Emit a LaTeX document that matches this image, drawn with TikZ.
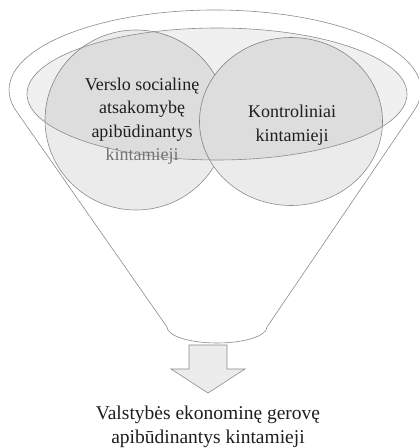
\documentclass[tikz,border=0pt]{standalone}
\usepackage{fontspec}
\setmainfont{Liberation Serif}
\definecolor{linegray}{HTML}{8C8C8C}
\definecolor{circfill}{HTML}{EBEBEB}
\definecolor{arrowfill}{HTML}{ECECEC}
\definecolor{txt}{HTML}{1E1E1E}
\tikzset{
  outline/.style={draw=linegray, line width=0.6pt},
  circ/.style={outline, fill=circfill},
  label/.style={text=txt, align=center, inner sep=0pt, font=\fontsize{18}{23.5}\selectfont},
}
\begin{document}
\begin{tikzpicture}[x=1pt,y=1pt]
\useasboundingbox (0,0) rectangle (419,448);
% funnel
\draw[outline, fill=white] (413.98,337.29) arc[start angle=-15, end angle=195, x radius=206pt, y radius=80pt]
  -- (167,121) arc[start angle=180, end angle=360, x radius=50pt, y radius=16pt] -- cycle;
% circles
\draw[circ] (136,328) ellipse[x radius=91pt, y radius=90pt];
\draw[circ] (291,326.5) ellipse[x radius=91.5pt, y radius=84pt];
% inner ellipse
\draw[outline, fill=black, fill opacity=0.06] (217,354) ellipse[x radius=190pt, y radius=66pt];
% texts
\node[label] (csr) at (142,327) {Verslo socialinę\\atsakomybę\\apibūdinantys\\\textcolor{black!55}{kintamieji}};
\node[label] (ctrl) at (292,323) {Kontroliniai\\kintamieji};
% arrow
\draw[outline, fill=arrowfill] (189,103) -- (227,103) -- (227,79) -- (245,79) -- (208,55) -- (171,79) -- (189,79) -- cycle;
\node[label, font=\fontsize{19.5}{24}\selectfont] (out) at (208,21) {Valstybės ekonominę gerovę\\apibūdinantys kintamieji};
\end{tikzpicture}
\end{document}
